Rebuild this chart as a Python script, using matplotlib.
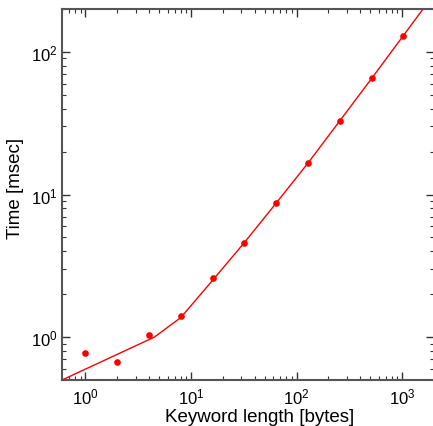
"""Keyword length vs. time, log-log."""

import matplotlib
matplotlib.use('Agg')
import matplotlib.pyplot as plt
from matplotlib.ticker import LogLocator, NullFormatter

plt.rcParams['font.family'] = ['Liberation Sans', 'DejaVu Sans']
plt.rcParams['mathtext.fontset'] = 'custom'
plt.rcParams['mathtext.rm'] = 'Liberation Sans'
plt.rcParams['mathtext.default'] = 'regular'

# Measured points
key_len = [1, 2, 4, 8, 16, 32, 64, 128, 256, 512, 1024]
time_ms = [0.77, 0.67, 1.03, 1.40, 2.6, 4.6, 8.7, 16.6, 32.8, 65.3, 130]

# Model curve
fit_len = [0.6, 4.5, 8, 16, 32, 64, 128, 256, 512, 1024, 2048]
fit_ms = [0.5, 1.0, 1.37, 2.5, 4.6, 8.7, 16.6, 32.8, 65.0, 130, 260]

fig = plt.figure(figsize=(4.33, 4.27), dpi=100)
ax = fig.add_axes([62/433, 46/427, 372/433, 371/427])

ax.plot(fit_len, fit_ms, color='red', lw=1.0)
ax.plot(key_len, time_ms, 'o', color='red', ms=4.8, mec='none')

ax.set_xscale('log')
ax.set_yscale('log')
ax.set_xlim([0.6, 2000])
ax.set_ylim([0.5, 200])

# Inward ticks on all four sides
for axis in [ax.xaxis, ax.yaxis]:
    axis.set_minor_locator(LogLocator(base=10, subs=range(2, 10), numticks=20))
    axis.set_minor_formatter(NullFormatter())
ax.tick_params(which='both', direction='in', top=True, right=True,
               color='#333333', labelsize=12)
ax.tick_params(axis='x', which='both', pad=5)
ax.tick_params(axis='y', which='both', pad=3)
ax.tick_params(which='major', length=6, width=1)
ax.tick_params(which='minor', length=3, width=0.8)

for sp in ax.spines.values():
    sp.set_color('#555555')
    sp.set_linewidth(1.5)

ax.set_xlabel('Keyword length [bytes]', fontsize=13.5)
ax.set_ylabel('Time [msec]', fontsize=13.5)
ax.xaxis.set_label_coords(0.532, -0.076)
ax.yaxis.set_label_coords(-0.103, 0.52)

plt.savefig('out.png', dpi=100)
